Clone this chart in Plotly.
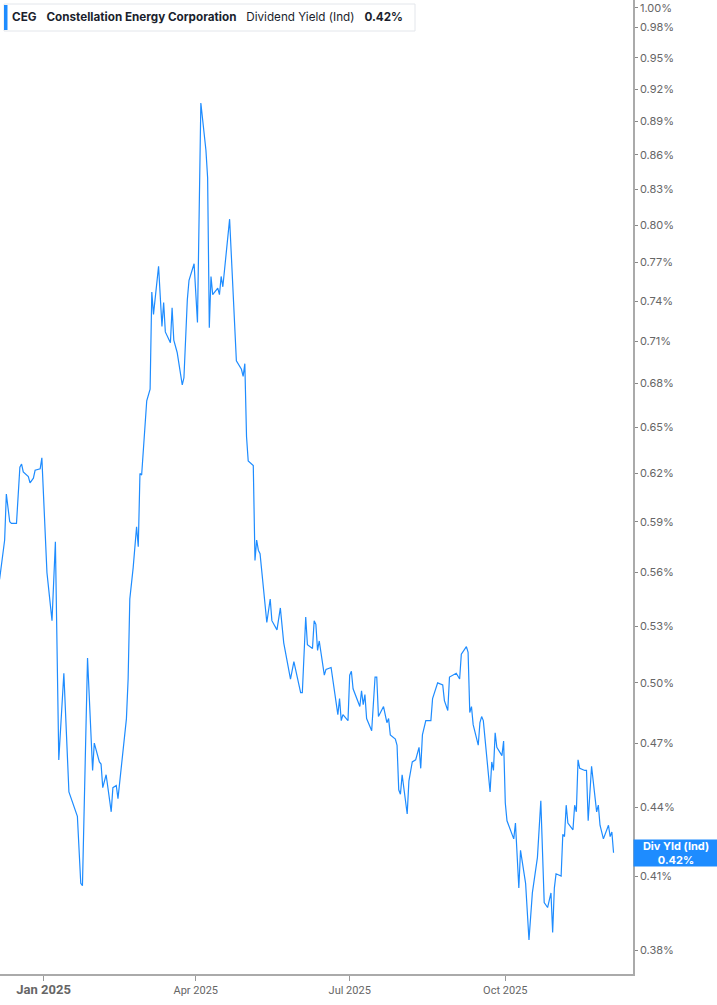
import numpy as np
import plotly.graph_objects as go

# CEG dividend yield (indicated), in percent
dates = [
    "2024-12-06", "2024-12-09", "2024-12-10", "2024-12-12", "2024-12-13", "2024-12-16",
    "2024-12-18", "2024-12-19", "2024-12-20", "2024-12-23", "2024-12-24", "2024-12-26",
    "2024-12-27", "2024-12-30", "2024-12-31", "2025-01-03", "2025-01-06", "2025-01-08",
    "2025-01-10", "2025-01-13", "2025-01-16", "2025-01-21", "2025-01-23", "2025-01-24",
    "2025-01-27", "2025-01-30", "2025-01-31", "2025-02-03", "2025-02-04", "2025-02-05",
    "2025-02-07", "2025-02-10", "2025-02-11", "2025-02-13", "2025-02-14", "2025-02-16",
    "2025-02-19", "2025-02-20", "2025-02-21", "2025-02-23", "2025-02-25", "2025-02-26",
    "2025-02-27", "2025-02-28", "2025-03-03", "2025-03-05", "2025-03-06", "2025-03-07",
    "2025-03-10", "2025-03-12", "2025-03-13", "2025-03-14", "2025-03-17", "2025-03-18",
    "2025-03-19", "2025-03-21", "2025-03-24", "2025-03-25", "2025-03-27", "2025-03-28",
    "2025-03-31", "2025-04-02", "2025-04-04", "2025-04-07", "2025-04-08", "2025-04-09",
    "2025-04-10", "2025-04-11", "2025-04-14", "2025-04-15", "2025-04-16", "2025-04-17",
    "2025-04-21", "2025-04-25", "2025-04-28", "2025-04-29", "2025-04-30", "2025-05-01",
    "2025-05-02", "2025-05-05", "2025-05-06", "2025-05-07", "2025-05-08", "2025-05-09",
    "2025-05-13", "2025-05-15", "2025-05-16", "2025-05-19", "2025-05-21", "2025-05-23",
    "2025-05-27", "2025-05-29", "2025-06-02", "2025-06-03", "2025-06-05", "2025-06-06",
    "2025-06-09", "2025-06-10", "2025-06-11", "2025-06-12", "2025-06-13", "2025-06-16",
    "2025-06-17", "2025-06-20", "2025-06-24", "2025-06-25", "2025-06-26", "2025-06-27",
    "2025-06-30", "2025-07-01", "2025-07-02", "2025-07-03", "2025-07-07", "2025-07-08",
    "2025-07-09", "2025-07-10", "2025-07-11", "2025-07-14", "2025-07-16", "2025-07-17",
    "2025-07-18", "2025-07-21", "2025-07-23", "2025-07-24", "2025-07-25", "2025-07-28",
    "2025-07-29", "2025-07-30", "2025-07-31", "2025-08-01", "2025-08-04", "2025-08-05",
    "2025-08-07", "2025-08-09", "2025-08-11", "2025-08-12", "2025-08-13", "2025-08-15",
    "2025-08-18", "2025-08-19", "2025-08-22", "2025-08-25", "2025-08-26", "2025-08-28",
    "2025-08-29", "2025-09-02", "2025-09-04", "2025-09-05", "2025-09-08", "2025-09-09",
    "2025-09-10", "2025-09-11", "2025-09-12", "2025-09-15", "2025-09-16", "2025-09-17",
    "2025-09-18", "2025-09-22", "2025-09-23", "2025-09-24", "2025-09-25", "2025-09-26",
    "2025-09-29", "2025-09-30", "2025-10-01", "2025-10-02", "2025-10-06", "2025-10-07",
    "2025-10-09", "2025-10-10", "2025-10-13", "2025-10-15", "2025-10-17", "2025-10-20",
    "2025-10-22", "2025-10-24", "2025-10-26", "2025-10-28", "2025-10-29", "2025-10-30",
    "2025-10-31", "2025-11-03", "2025-11-04", "2025-11-05", "2025-11-06", "2025-11-07",
    "2025-11-10", "2025-11-11", "2025-11-12", "2025-11-13", "2025-11-14", "2025-11-17",
    "2025-11-18", "2025-11-19", "2025-11-21", "2025-11-24", "2025-11-25", "2025-11-26",
    "2025-11-28", "2025-12-01", "2025-12-02", "2025-12-03", "2025-12-04",
]
div_yield = [
    0.556, 0.579, 0.607, 0.590, 0.589, 0.589,
    0.624, 0.626, 0.621, 0.618, 0.614, 0.617,
    0.622, 0.623, 0.630, 0.560, 0.533, 0.578,
    0.462, 0.505, 0.447, 0.436, 0.407, 0.406,
    0.513, 0.457, 0.470, 0.461, 0.460, 0.449,
    0.455, 0.438, 0.449, 0.450, 0.444, 0.460,
    0.482, 0.502, 0.545, 0.563, 0.587, 0.575,
    0.620, 0.619, 0.668, 0.676, 0.747, 0.730,
    0.767, 0.721, 0.739, 0.717, 0.709, 0.735,
    0.711, 0.702, 0.679, 0.684, 0.741, 0.756,
    0.769, 0.724, 0.907, 0.864, 0.840, 0.720,
    0.759, 0.745, 0.750, 0.745, 0.759, 0.751,
    0.805, 0.696, 0.690, 0.685, 0.694, 0.644,
    0.628, 0.625, 0.567, 0.579, 0.573, 0.571,
    0.532, 0.545, 0.533, 0.528, 0.540, 0.521,
    0.502, 0.511, 0.495, 0.495, 0.535, 0.520,
    0.518, 0.533, 0.531, 0.517, 0.522, 0.504,
    0.507, 0.508, 0.484, 0.492, 0.481, 0.484,
    0.481, 0.504, 0.506, 0.497, 0.488, 0.496,
    0.489, 0.494, 0.482, 0.476, 0.503, 0.503,
    0.483, 0.488, 0.480, 0.482, 0.474, 0.472,
    0.469, 0.448, 0.446, 0.455, 0.437, 0.452,
    0.461, 0.462, 0.468, 0.458, 0.474, 0.481,
    0.481, 0.492, 0.500, 0.499, 0.491, 0.486,
    0.503, 0.505, 0.502, 0.515, 0.519, 0.516,
    0.485, 0.488, 0.479, 0.469, 0.480, 0.483,
    0.481, 0.447, 0.461, 0.457, 0.475, 0.468,
    0.464, 0.471, 0.442, 0.434, 0.426, 0.433,
    0.405, 0.421, 0.407, 0.384, 0.403, 0.418,
    0.443, 0.399, 0.397, 0.403, 0.387, 0.405,
    0.411, 0.410, 0.428, 0.427, 0.441, 0.433,
    0.430, 0.441, 0.438, 0.462, 0.458, 0.457,
    0.457, 0.434, 0.459, 0.438, 0.441, 0.432,
    0.426, 0.432, 0.427, 0.429, 0.420,
]

y_ticks = [0.38, 0.41, 0.44, 0.47, 0.50, 0.53, 0.56, 0.59, 0.62, 0.65, 0.68,
           0.71, 0.74, 0.77, 0.80, 0.83, 0.86, 0.89, 0.92, 0.95, 0.98, 1.00]
x_ticks = ["2025-01-01", "2025-04-01", "2025-07-01", "2025-10-01"]
x_labels = ['<span style="font-size:13px"><b>Jan 2025</b></span>',
            "Apr 2025", "Jul 2025", "Oct 2025"]

BLUE = "#1e8cff"
last = div_yield[-1]

fig = go.Figure()
fig.add_trace(go.Scatter(x=dates, y=div_yield, mode="lines",
                         line=dict(color=BLUE, width=1.2), hoverinfo="x+y"))

fig.update_layout(
    width=717, height=1005,
    margin=dict(l=0, r=84, t=0, b=31),
    paper_bgcolor="white", plot_bgcolor="white",
    showlegend=False,
    font=dict(family="Inter, Roboto, sans-serif", color="#555555"),
    xaxis=dict(
        type="date",
        range=["2024-12-06 06:00", "2025-12-15 12:00"],
        tickvals=x_ticks, ticktext=x_labels,
        tickfont=dict(family="Roboto, sans-serif", size=11, color="#666666"),
        ticks="outside", ticklen=5, tickcolor="#999999",
        showline=True, linecolor="#aaaaaa", linewidth=1.5,
        showgrid=False, zeroline=False,
    ),
    yaxis=dict(
        type="log", side="right",
        range=[np.log10(0.3708), np.log10(1.0082)],
        tickvals=y_ticks, ticktext=[f"{v:.2f}%" for v in y_ticks],
        tickfont=dict(family="Inter, sans-serif", size=11, color="#666666"),
        ticks="outside", ticklen=3, tickcolor="#888888",
        showline=True, linecolor="#aaaaaa", linewidth=1.5,
        showgrid=False, zeroline=False,
    ),
)

# header box: white card with light border and a blue stripe on its left edge
W, H = 633, 974
fig.add_shape(type="rect", xref="paper", yref="paper",
              x0=4 / W, x1=415 / W, y0=1 - 31 / H, y1=1 - 4 / H,
              fillcolor="white", line=dict(color="#e3e6eb", width=1))
fig.add_shape(type="rect", xref="paper", yref="paper",
              x0=4 / W, x1=7.5 / W, y0=1 - 30 / H, y1=1 - 5 / H,
              fillcolor=BLUE, line=dict(width=0))
fig.add_annotation(
    xref="paper", yref="paper", x=10 / W, y=1 - 17.5 / H,
    xanchor="left", yanchor="middle", showarrow=False, align="left",
    text=("<b>CEG</b>   <b>Constellation Energy Corporation</b>   "
          f"Dividend Yield (Ind)   <b>{last:.2f}%</b>"),
    font=dict(family="Inter, sans-serif", size=11.7, color="#1b1f2e"),
)

# last value tag on the axis
fig.add_annotation(
    xref="paper", yref="y", x=1, y=np.log10(last),
    xanchor="left", yanchor="middle", showarrow=False,
    text=f"<b>Div Yld (Ind)</b><br><b>{last:.2f}%</b>",
    font=dict(family="Inter, sans-serif", size=11, color="white"),
    bgcolor=BLUE, width=82, height=24, borderpad=1,
)

# page body has a default 8px margin; drop it so the figure sits at the window corner
fig.write_html("out.html", config={"displayModeBar": False},
               post_script="document.body.style.margin='0';")
